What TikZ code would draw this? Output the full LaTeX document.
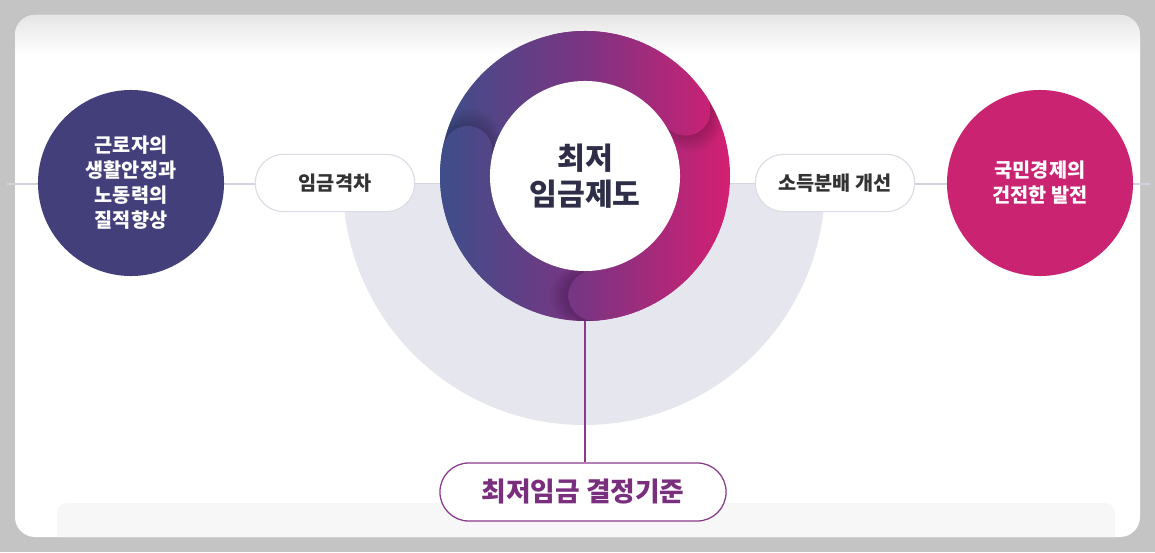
\documentclass[tikz,border=0pt]{standalone}
\usepackage{fontspec}
\setmainfont{Noto Sans CJK KR}
\usepackage{tikz}
\usetikzlibrary{positioning, backgrounds, calc}
\definecolor{pagegray}{RGB}{196, 196, 196}
\definecolor{navycircle}{RGB}{67, 63, 122}
\definecolor{rosecircle}{RGB}{201, 35, 114}
\definecolor{ringblue}{RGB}{62, 78, 138}
\definecolor{ringmid}{RGB}{124, 52, 130}
\definecolor{ringrose}{RGB}{212, 31, 114}
\definecolor{halo}{RGB}{230, 230, 239}
\definecolor{linegray}{RGB}{211, 211, 223}
\definecolor{pillborder}{RGB}{220, 220, 230}
\definecolor{plum}{RGB}{139, 58, 139}
\definecolor{plumtext}{RGB}{122, 46, 126}
\definecolor{inktext}{RGB}{46, 46, 72}

\begin{document}
\begin{tikzpicture}[
  x=0.025cm, y=0.025cm,
  goal/.style={circle, minimum size=4.65cm, inner sep=0pt, align=center, text=white, font=\fontsize{14}{17.8}\selectfont\bfseries},
  pill/.style={draw=pillborder, fill=white, rounded corners=0.7cm, minimum width=3.98cm, minimum height=1.43cm, line width=0.8pt, font=\fontsize{14}{16}\selectfont\bfseries, text=black!80},
  core/.style={circle, fill=white, minimum size=4.75cm, inner sep=0pt, align=center, text=inktext, font=\fontsize{21.5}{25.6}\selectfont\bfseries},
  basis/.style={draw=plum, fill=white, rounded corners=0.72cm, minimum width=7.15cm, minimum height=1.45cm, line width=0.9pt, text=plumtext, font=\fontsize{19}{22}\selectfont\bfseries},
  link/.style={draw=linegray, line width=0.8pt},
  stem/.style={draw=plum, line width=0.9pt},
  ringshade/.style={left color=ringblue, right color=ringrose, middle color=ringmid}
]
\useasboundingbox (0,0) rectangle (1155,552);

% Page and card
\fill[pagegray] (0,0) rectangle (1155,552);
\fill[white, rounded corners=0.5cm] (15,15) rectangle (1140,537);
\begin{scope}
  \clip[rounded corners=0.5cm] (15,15) rectangle (1140,537);
  \shade[top color=black!10, bottom color=white] (15,497) rectangle (1140,537);
  \fill[black!3, rounded corners=0.25cm] (57,0) rectangle (1115,49);
\end{scope}

% Guide line and halo
\draw[link] (7,368) -- (1150,368);
\fill[halo] (343,368) arc[start angle=180, end angle=360, radius=241] -- cycle;

% Ring with three overlapping ribbon ends
\coordinate (ringCenter) at (585,376);
\shade[ringshade] (ringCenter) circle[radius=145];
\foreach \capang in {33,168,274} {
  \begin{scope}[even odd rule]
    \clip (ringCenter) circle[radius=145] (ringCenter) circle[radius=95];
    \foreach \k in {1,...,8}
      \fill[black, opacity=0.025] ($(ringCenter)+(\capang-0.9*\k:120)$) circle[radius=25+0.4*\k];
    \begin{scope}
      \clip (ringCenter) -- ++(\capang:170) arc[start angle=\capang, end angle=\capang+70, radius=170] -- cycle;
      \shade[ringshade] (ringCenter) circle[radius=145];
    \end{scope}
    \begin{scope}
      \clip ($(ringCenter)+(\capang:120)$) circle[radius=25];
      \shade[ringshade] (ringCenter) circle[radius=145];
    \end{scope}
  \end{scope}
}
\node[core] (core) at (ringCenter) {최저\\임금제도};
\coordinate (ringBottom) at (585,231);

% Goals and effects
\node[goal, fill=navycircle] (worker) at (131,369) {근로자의\\생활안정과\\노동력의\\질적향상};
\node[pill] (gap) at (335,369) {임금격차};
\node[pill] (income) at (835,369) {소득분배 개선};
\node[goal, fill=rosecircle] (economy) at (1040,369) {국민경제의\\건전한 발전};

% Criteria
\node[basis] (criteria) at (583,60) {최저임금 결정기준};
\draw[stem] (ringBottom) -- (criteria.north -| ringBottom);

\end{tikzpicture}
\end{document}
